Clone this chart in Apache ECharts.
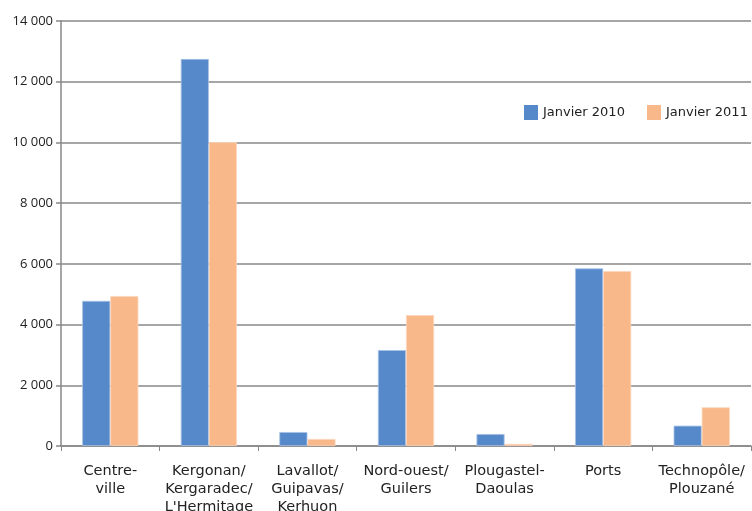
<!DOCTYPE html>
<html>
<head>
<meta charset="utf-8">
<script src="https://cdn.jsdelivr.net/npm/echarts@6/dist/echarts.min.js"></script>
<style>html,body{margin:0;padding:0;background:#fff;overflow:hidden;}#c{width:752px;height:511px;}</style>
</head>
<body>
<div id="c"></div>
<script>
const categories = ["Centre-\nville", "Kergonan/\nKergaradec/\nL'Hermitage", "Lavallot/\nGuipavas/\nKerhuon", "Nord-ouest/\nGuilers", "Plougastel-\nDaoulas", "Ports", "Technopôle/\nPlouzané"];
const seriesNames = ["Janvier 2010", "Janvier 2011"];
const values2010 = [4780, 12750, 460, 3160, 395, 5850, 670];
const values2011 = [4940, 10010, 230, 4310, 70, 5760, 1275];

const legendText = { fontSize: 13, color: '#222', fontFamily: 'DejaVu Sans' };
const chart = echarts.init(document.getElementById('c'));
chart.setOption({
  animation: false,
  legend: [
    { left: 524, top: 105, padding: 0, itemWidth: 14, itemHeight: 15, icon: 'rect',
      itemStyle: { borderWidth: 0 }, textStyle: legendText, data: [seriesNames[0]] },
    { left: 647, top: 105, padding: 0, itemWidth: 14, itemHeight: 15, icon: 'rect',
      itemStyle: { borderWidth: 0 }, textStyle: legendText, data: [seriesNames[1]] }
  ],
  grid: { left: 61, right: 1, top: 21, bottom: 65, containLabel: false, outerBoundsMode: 'none' },
  xAxis: {
    type: 'category',
    data: categories,
    axisLine: { lineStyle: { color: '#888', width: 1.5 } },
    axisTick: { show: true, length: 5, inside: false, lineStyle: { color: '#888', width: 1 } },
    axisLabel: { interval: 0, margin: 16, fontSize: 14.5, lineHeight: 18, color: '#222', fontFamily: 'DejaVu Sans' }
  },
  yAxis: {
    type: 'value',
    min: 0, max: 14000, interval: 2000,
    axisLine: { show: true, lineStyle: { color: '#888', width: 1.5 } },
    axisTick: { show: true, length: 5, lineStyle: { color: '#888', width: 1.5 } },
    splitLine: { lineStyle: { color: '#888', width: 1.5 } },
    axisLabel: {
      margin: 8, fontSize: 13, color: '#222', fontFamily: 'Open Sans',
      formatter: v => v >= 1000 ? String(Math.floor(v / 1000)) + ' ' + String(v % 1000).padStart(3, '0') : String(v)
    }
  },
  series: [
    { name: seriesNames[0], type: 'bar', data: values2010, barGap: '0%', barCategoryGap: '43%',
      itemStyle: { color: '#5589C9', borderColor: '#a9c3e6', borderWidth: 0.8 } },
    { name: seriesNames[1], type: 'bar', data: values2011, barGap: '0%', barCategoryGap: '43%',
      itemStyle: { color: '#F8B88A', borderColor: '#fbd6bb', borderWidth: 0.8 } }
  ]
});
</script>
</body>
</html>
